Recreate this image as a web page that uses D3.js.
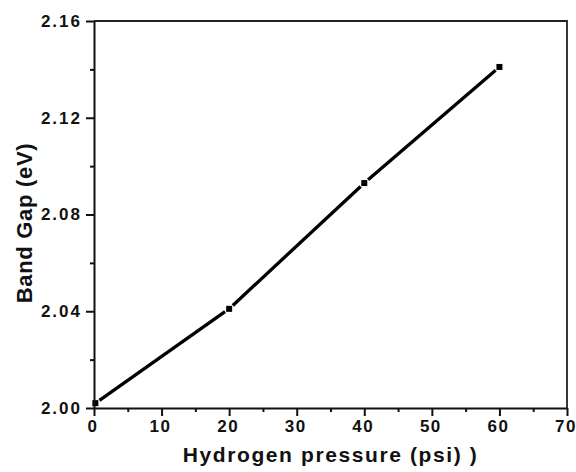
<!DOCTYPE html>
<html>
<head>
<meta charset="utf-8">
<script src="https://cdn.jsdelivr.net/npm/d3@7"></script>
<style>
  html, body { margin: 0; padding: 0; background: #fff; }
  svg { display: block; }
  text { font-family: "Liberation Sans", Arial, sans-serif; font-weight: bold; fill: #111; }
</style>
</head>
<body>
<svg id="chart" width="576" height="472"></svg>
<script>
// ---- data ----
const pressure = [0.2, 20, 40, 60];           // Hydrogen pressure (psi)
const bandGap  = [2.002, 2.041, 2.093, 2.141]; // Band Gap (eV)
const xTicks = [0, 10, 20, 30, 40, 50, 60, 70];
const yTicks = [2.00, 2.04, 2.08, 2.12, 2.16];
const xMinor = [5, 15, 25, 35, 45, 55, 65];
const yMinor = [2.02, 2.06, 2.10, 2.14];
const xTitle = "Hydrogen pressure (psi) )";
const yTitle = "Band Gap (eV)";

const W = 576, H = 472;
const m = { left: 94, right: 9, top: 21, bottom: 64 };
const svg = d3.select("#chart");

const x = d3.scaleLinear().domain([0, 70]).range([m.left, W - m.right]);
const y = d3.scaleLinear().domain([2.00, 2.16]).range([H - m.bottom, m.top]);

const pts = pressure.map((p, i) => [x(p), y(bandGap[i])]);

// line segments with small gaps around markers
const gap = 5;
const segs = [];
for (let i = 0; i < pts.length - 1; i++) {
  const [x0, y0] = pts[i], [x1, y1] = pts[i + 1];
  const dx = x1 - x0, dy = y1 - y0, L = Math.hypot(dx, dy);
  const ux = dx / L, uy = dy / L;
  segs.push([[x0 + ux * gap, y0 + uy * gap], [x1 - ux * gap, y1 - uy * gap]]);
}
svg.append("g").selectAll("path").data(segs).join("path")
  .attr("d", d => d3.line()(d))
  .attr("fill", "none").attr("stroke", "#000").attr("stroke-width", 3.3);

svg.append("g").selectAll("rect").data(pts).join("rect")
  .attr("x", d => d[0] - 3).attr("y", d => d[1] - 3)
  .attr("width", 6).attr("height", 6).attr("fill", "#000");

// frame (top & right)
svg.append("path")
  .attr("d", `M${x(0)},${y(2.16)}H${x(70)}V${y(2.00)}`)
  .attr("fill", "none").attr("stroke", "#222").attr("stroke-width", 1.8);

// axes
const styleAxis = g => {
  g.select(".domain").attr("stroke", "#111").attr("stroke-width", 2);
  g.selectAll(".tick line").attr("stroke", "#111").attr("stroke-width", 2);
};

const gx = svg.append("g").attr("transform", `translate(0,${y(2.00)})`)
  .call(d3.axisBottom(x).tickValues(xTicks).tickSize(8).tickSizeOuter(0).tickPadding(4).tickFormat(d3.format("d")))
  .call(styleAxis);
gx.selectAll("text").attr("font-size", 17).attr("letter-spacing", 1.5).attr("dx", -1.5)
  .attr("font-family", '"Liberation Sans", Arial, sans-serif').attr("font-weight", "bold").attr("fill", "#111");

svg.append("g").attr("transform", `translate(0,${y(2.00)})`)
  .call(d3.axisBottom(x).tickValues(xMinor).tickSize(4).tickSizeOuter(0).tickFormat(""))
  .call(g => g.select(".domain").remove())
  .call(styleAxis);

const gy = svg.append("g").attr("transform", `translate(${x(0)},0)`)
  .call(d3.axisLeft(y).tickValues(yTicks).tickSize(8).tickSizeOuter(0).tickPadding(6).tickFormat(d3.format(".2f")))
  .call(styleAxis);
gy.selectAll("text").attr("font-size", 17).attr("letter-spacing", 2).attr("dx", 2)
  .attr("font-family", '"Liberation Sans", Arial, sans-serif').attr("font-weight", "bold").attr("fill", "#111");

svg.append("g").attr("transform", `translate(${x(0)},0)`)
  .call(d3.axisLeft(y).tickValues(yMinor).tickSize(4).tickSizeOuter(0).tickFormat(""))
  .call(g => g.select(".domain").remove())
  .call(styleAxis);

// titles
svg.append("text")
  .attr("x", (x(0) + x(70)) / 2).attr("y", 462)
  .attr("text-anchor", "middle").attr("font-size", 21).attr("letter-spacing", 1.6)
  .text(xTitle);

svg.append("text")
  .attr("transform", `translate(32,${223}) rotate(-90)`)
  .attr("text-anchor", "middle").attr("font-size", 22).attr("letter-spacing", 0.7)
  .text(yTitle);
</script>
</body>
</html>
